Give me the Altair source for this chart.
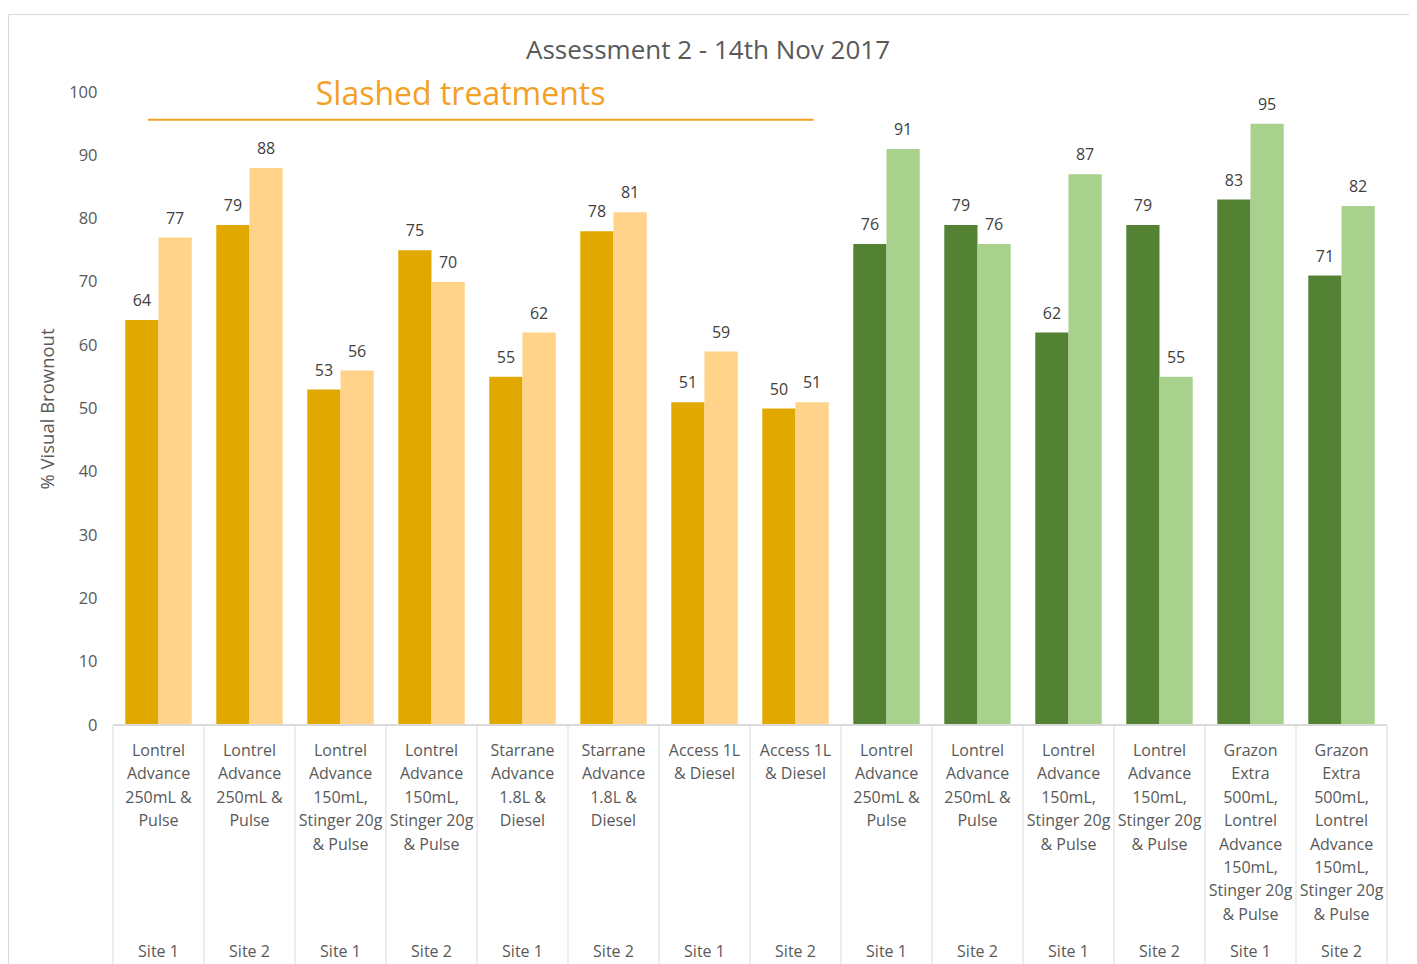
import altair as alt
import pandas as pd

# ---------------- data ----------------
treatments = [
    "Lontrel\nAdvance\n250mL &\nPulse",
    "Lontrel\nAdvance\n250mL &\nPulse",
    "Lontrel\nAdvance\n150mL,\nStinger 20g\n& Pulse",
    "Lontrel\nAdvance\n150mL,\nStinger 20g\n& Pulse",
    "Starrane\nAdvance\n1.8L &\nDiesel",
    "Starrane\nAdvance\n1.8L &\nDiesel",
    "Access 1L\n& Diesel",
    "Access 1L\n& Diesel",
    "Lontrel\nAdvance\n250mL &\nPulse",
    "Lontrel\nAdvance\n250mL &\nPulse",
    "Lontrel\nAdvance\n150mL,\nStinger 20g\n& Pulse",
    "Lontrel\nAdvance\n150mL,\nStinger 20g\n& Pulse",
    "Grazon\nExtra\n500mL,\nLontrel\nAdvance\n150mL,\nStinger 20g\n& Pulse",
    "Grazon\nExtra\n500mL,\nLontrel\nAdvance\n150mL,\nStinger 20g\n& Pulse",
]
sites = ["Site 1", "Site 2"] * 7
groups = ["slashed"] * 8 + ["unslashed"] * 6
series_a = [64, 79, 53, 75, 55, 78, 51, 50, 76, 79, 62, 79, 83, 71]
series_b = [77, 88, 56, 70, 62, 81, 59, 51, 91, 76, 87, 55, 95, 82]

title_text = "Assessment 2 - 14th Nov 2017"
annot_text = "Slashed treatments"
annot_x = [0.385, 7.70]   # span of the orange line in category units
annot_y = 95.6
annot_text_x = 3.82
annot_text_y = 99.6

y_ticks = list(range(0, 101, 10))

# ---------------- build tables ----------------
rows = []
for i in range(len(treatments)):
    for s, vals in (("a", series_a), ("b", series_b)):
        rows.append({"idx": i, "series": s, "value": vals[i],
                     "key": f"{groups[i]}_{s}"})
bars = pd.DataFrame(rows)

cats = pd.DataFrame({"idx": range(len(treatments)), "treat": treatments, "site": sites})
bounds = pd.DataFrame({"b": range(len(treatments) + 1)})
annot_line = pd.DataFrame({"x": [annot_x[0]], "x2": [annot_x[1]], "y": [annot_y]})
annot_lbl = pd.DataFrame({"x": [annot_text_x], "y": [annot_text_y], "t": [annot_text]})

W, H = 1274, 633
FONT = "Open Sans"
TOP = 92     # page y of plot top
LEFT = 113   # page x of plot left

xscale = alt.Scale(domain=[0, len(treatments)], nice=False, zero=False)
yscale = alt.Scale(domain=[0, 100], nice=False)

base_bars = alt.Chart(bars).transform_calculate(
    x0="datum.idx + (datum.series == 'a' ? 0.135 : 0.5)",
    x1="datum.idx + (datum.series == 'a' ? 0.5 : 0.865)",
    xc="datum.idx + (datum.series == 'a' ? 0.3175 : 0.6825)",
)

bar_layer = base_bars.mark_rect().encode(
    x=alt.X("x0:Q", scale=xscale, axis=None),
    x2="x1:Q",
    y=alt.Y("value:Q", scale=yscale,
            axis=alt.Axis(values=y_ticks, domain=False, ticks=False, grid=False,
                          labelFontSize=16.5, labelColor="#595959", labelFont=FONT,
                          labelPadding=16, title="% Visual Brownout",
                          titleFontSize=18.5, titleFont=FONT, titleColor="#595959",
                          titleFontWeight="normal", titlePadding=11)),
    y2=alt.datum(0),
    color=alt.Color("key:N", legend=None,
                    scale=alt.Scale(domain=["slashed_a", "slashed_b", "unslashed_a", "unslashed_b"],
                                    range=["#E1A900", "#FFD38A", "#548235", "#A9D18E"])),
)

value_labels = base_bars.mark_text(
    baseline="alphabetic", dy=-14, fontSize=16, font=FONT, color="#404040"
).encode(
    x=alt.X("xc:Q", scale=xscale),
    y=alt.Y("value:Q", scale=yscale),
    text="value:Q",
)

axis_line = alt.Chart(bounds).mark_rule(color="#D9D9D9", strokeWidth=1).encode(
    x=alt.datum(0, scale=xscale), x2=alt.datum(len(treatments)),
    y=alt.value(H),
)

sep_lines = alt.Chart(bounds).mark_rule(color="#D9D9D9", strokeWidth=1).encode(
    x=alt.X("b:Q", scale=xscale),
    y=alt.value(H), y2=alt.value(H + 260),
)

treat_labels = alt.Chart(cats).transform_calculate(xc="datum.idx + 0.5").mark_text(
    lineBreak="\n", baseline="top", align="center", fontSize=16, font=FONT,
    color="#595959", lineHeight=23.4
).encode(
    x=alt.X("xc:Q", scale=xscale),
    y=alt.value(743 - TOP),
    text="treat:N",
)

site_labels = alt.Chart(cats).transform_calculate(xc="datum.idx + 0.5").mark_text(
    baseline="middle", align="center", fontSize=16, font=FONT, color="#595959"
).encode(
    x=alt.X("xc:Q", scale=xscale),
    y=alt.value(952 - TOP),
    text="site:N",
)

orange_line = alt.Chart(annot_line).mark_rule(color="#F4A024", strokeWidth=2).encode(
    x=alt.X("x:Q", scale=xscale), x2="x2:Q",
    y=alt.Y("y:Q", scale=yscale),
)

orange_text = alt.Chart(annot_lbl).mark_text(
    fontSize=32, font=FONT, color="#F4A024", baseline="middle", align="center"
).encode(
    x=alt.X("x:Q", scale=xscale),
    y=alt.Y("y:Q", scale=yscale),
    text="t:N",
)

title_layer = alt.Chart(annot_lbl).mark_text(
    fontSize=26, font=FONT, color="#595959", baseline="middle", align="center"
).encode(
    x=alt.value(708 - LEFT), y=alt.value(51 - TOP), text=alt.value(title_text),
)

frame = alt.Chart(annot_lbl).mark_rect(fill=None, stroke="#D9D9D9", strokeWidth=1).encode(
    x=alt.value(8.5 - LEFT), x2=alt.value(1410.5 - LEFT),
    y=alt.value(14.5 - TOP), y2=alt.value(H + 320),
)

chart = alt.layer(
    frame, bar_layer, value_labels, axis_line, sep_lines, treat_labels,
    site_labels, orange_line, orange_text, title_layer,
).properties(
    width=W, height=H,
    background="white",
    autosize=alt.AutoSizeParams(type="none"),
    padding={"left": 105, "top": 84, "right": 22, "bottom": 270},
).configure_view(stroke=None)

chart.save("out.html", embed_options={"renderer": "svg", "actions": False})
